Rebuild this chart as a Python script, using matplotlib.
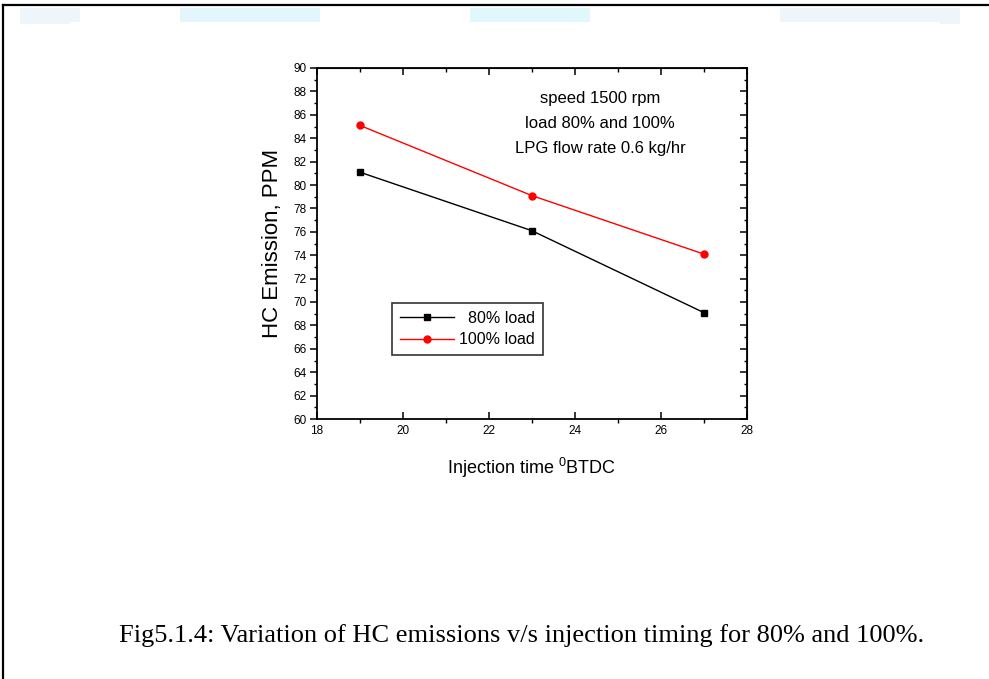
import matplotlib
matplotlib.use("Agg")
import matplotlib.pyplot as plt
from matplotlib.patches import Rectangle
from matplotlib.ticker import MultipleLocator

injection_time = [19, 23, 27]
load_80 = [81.1, 76.1, 69.1]
load_100 = [85.1, 79.1, 74.1]
series_labels = ["  80% load", "100% load"]
annotation_lines = ["speed 1500 rpm", "load 80% and 100%", "LPG flow rate 0.6 kg/hr"]
caption = "Fig5.1.4: Variation of HC emissions v/s injection timing for 80% and 100%."

plt.rcParams['font.family'] = ['Liberation Sans', 'DejaVu Sans']
plt.rcParams['mathtext.default'] = 'regular'

W, H = 989, 679
fig = plt.figure(figsize=(W / 100, H / 100), dpi=100)

# faint background strips near top
for (x0, w, c) in [(20, 60, '#eef6fb'), (180, 140, '#e3f6fb'), (470, 120, '#e0f7fb'), (780, 180, '#eef6fb')]:
    fig.add_artist(Rectangle((x0 / W, 1 - 24 / H), w / W, 16 / H, transform=fig.transFigure,
                             color=c, lw=0, zorder=-3))
fig.add_artist(Rectangle((70 / W, 0), 870 / W, 1 - 22 / H, transform=fig.transFigure,
                         color='white', lw=0, zorder=-2))
# page border lines
fig.add_artist(plt.Line2D([3 / W, 3 / W], [0, 1 - 5 / H], color='black', lw=1.6, transform=fig.transFigure))
fig.add_artist(plt.Line2D([3 / W, 1], [1 - 5 / H, 1 - 5 / H], color='black', lw=1.6, transform=fig.transFigure))

left, right, top, bottom = 316.7, 746.7, 68, 419
ax = fig.add_axes([left / W, 1 - bottom / H, (right - left) / W, (bottom - top) / H])
ax.set_facecolor('none')

ax.plot(injection_time, load_80, color='black', lw=1.0, marker='s', ms=5, label=series_labels[0])
ax.plot(injection_time, load_100, color='red', lw=1.0, marker='o', ms=5, label=series_labels[1])

ax.set_xlim(18, 28)
ax.set_ylim(60, 90)
ax.xaxis.set_major_locator(MultipleLocator(2))
ax.xaxis.set_minor_locator(MultipleLocator(1))
ax.yaxis.set_major_locator(MultipleLocator(2))
ax.yaxis.set_minor_locator(MultipleLocator(1))
for s in ax.spines.values():
    s.set_linewidth(1.3)

ax.tick_params(axis='y', which='major', direction='out', length=5, width=1.1, labelsize=8.5, pad=2)
ax.tick_params(axis='y', which='minor', direction='out', length=2.5, width=1.0)
ax.tick_params(axis='x', which='major', direction='in', length=5, width=1.1, labelsize=8.5, pad=4)
ax.tick_params(axis='x', which='minor', direction='out', length=3, width=1.0)

sec_top = ax.secondary_xaxis('top')
sec_top.xaxis.set_major_locator(MultipleLocator(2))
sec_top.xaxis.set_minor_locator(MultipleLocator(1))
sec_top.tick_params(which='major', direction='in', length=5, width=1.1, labeltop=False)
sec_top.tick_params(which='minor', direction='in', length=3, width=1.0)
sec_right = ax.secondary_yaxis('right')
sec_right.yaxis.set_major_locator(MultipleLocator(2))
sec_right.yaxis.set_minor_locator(MultipleLocator(1))
sec_right.tick_params(which='major', direction='in', length=5, width=1.1, labelright=False)
sec_right.tick_params(which='minor', direction='in', length=2.5, width=1.0)

ax.set_ylabel("HC Emission, PPM", fontsize=16, labelpad=8)
ax.set_xlabel("Injection time $^{0}$BTDC", fontsize=13, labelpad=14)

ann_y = [98, 124, 148]
for line, yy in zip(annotation_lines, ann_y):
    fig.text(600 / W, 1 - yy / H, line, ha='center', va='center', fontsize=12)

leg = ax.legend(loc='upper left', bbox_to_anchor=((391.7 - left) / (right - left), (bottom - 303) / (bottom - top)),
                frameon=True, fancybox=False, edgecolor='black', fontsize=11.5, handlelength=3.4,
                borderpad=0.5, labelspacing=0.4, handletextpad=0.3, borderaxespad=0)
leg.get_frame().set_linewidth(1.2)

fig.text(522 / W, 1 - 636 / H, caption, ha='center', va='center', fontsize=19, family='Liberation Serif')

fig.savefig("out.png", dpi=100)
